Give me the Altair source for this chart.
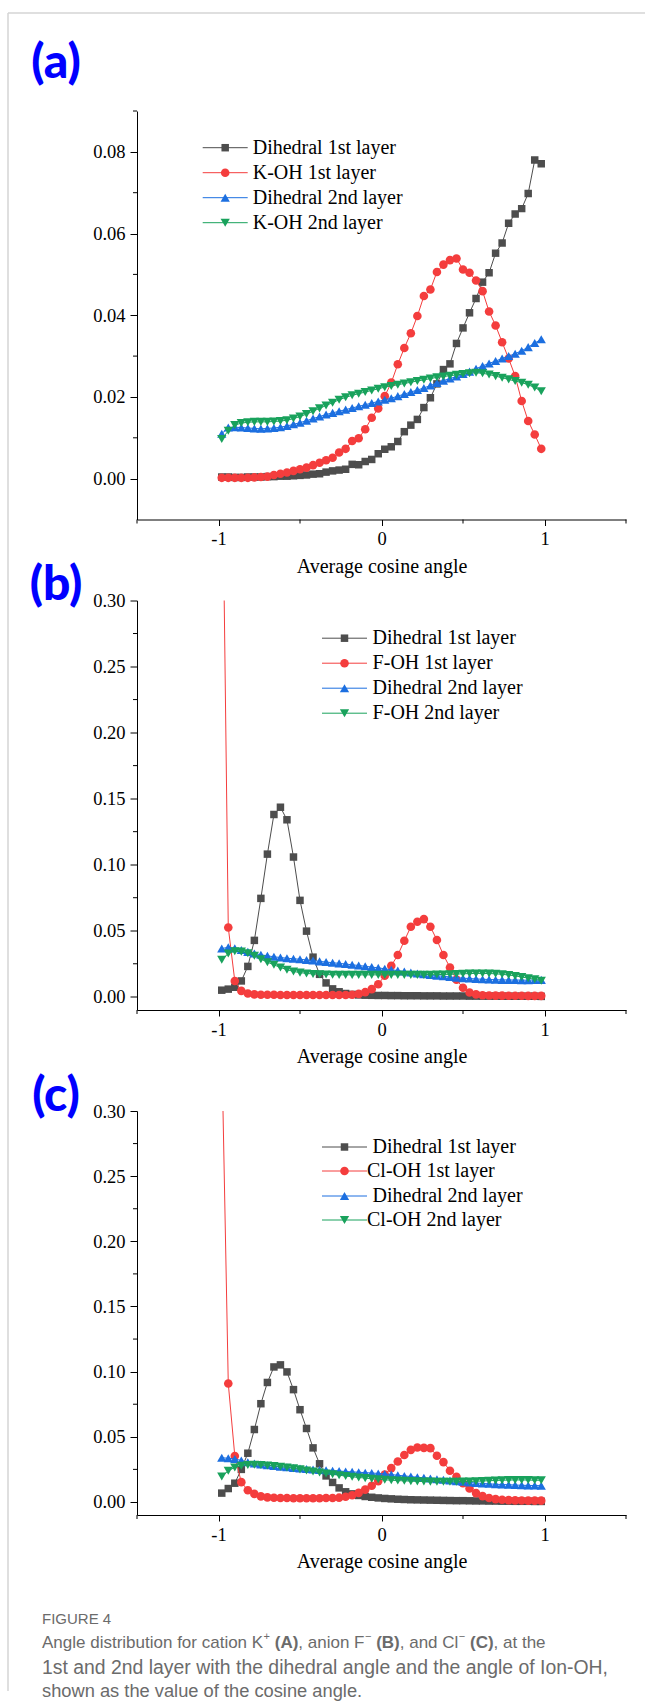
import altair as alt
import pandas as pd

# Bin centres of the cosine histogram
COS = [-0.98, -0.94, -0.90, -0.86, -0.82, -0.78, -0.74, -0.70, -0.66, -0.62,
       -0.58, -0.54, -0.50, -0.46, -0.42, -0.38, -0.34, -0.30, -0.26, -0.22,
       -0.18, -0.14, -0.10, -0.06, -0.02, 0.02, 0.06, 0.10, 0.14, 0.18,
       0.22, 0.26, 0.30, 0.34, 0.38, 0.42, 0.46, 0.50, 0.54, 0.58,
       0.62, 0.66, 0.70, 0.74, 0.78, 0.82, 0.86, 0.90, 0.94, 0.98]

# (a) cation K+
A_DIH1 = [0.0004, 0.0004, 0.0003, 0.0003, 0.0004, 0.0004, 0.0004, 0.0005, 0.0005, 0.0006,
          0.0006, 0.0007, 0.0008, 0.0009, 0.0011, 0.0012, 0.0016, 0.0019, 0.0021, 0.0023,
          0.0035, 0.0034, 0.0042, 0.0047, 0.0061, 0.0072, 0.0078, 0.0091, 0.0115, 0.0131,
          0.0145, 0.0174, 0.0198, 0.0232, 0.0267, 0.0281, 0.0331, 0.0369, 0.0406, 0.0441,
          0.0481, 0.0504, 0.0552, 0.0577, 0.0625, 0.0648, 0.0661, 0.0698, 0.0780, 0.0771]
A_ION1 = [0.0002, 0.0002, 0.0002, 0.0002, 0.0002, 0.0003, 0.0004, 0.0005, 0.0009, 0.0012,
          0.0015, 0.0019, 0.0023, 0.0027, 0.0033, 0.0039, 0.0045, 0.0051, 0.0064, 0.0073,
          0.0092, 0.0099, 0.0121, 0.0149, 0.0172, 0.0202, 0.0235, 0.0280, 0.0320, 0.0356,
          0.0398, 0.0447, 0.0463, 0.0506, 0.0524, 0.0535, 0.0539, 0.0512, 0.0504, 0.0485,
          0.0459, 0.0409, 0.0375, 0.0334, 0.0294, 0.0251, 0.0190, 0.0141, 0.0108, 0.0073]
A_DIH2 = [0.0110, 0.0125, 0.0126, 0.0125, 0.0124, 0.0123, 0.0122, 0.0123, 0.0124, 0.0126,
          0.0129, 0.0133, 0.0137, 0.0142, 0.0147, 0.0152, 0.0157, 0.0161, 0.0165, 0.0169,
          0.0173, 0.0177, 0.0181, 0.0185, 0.0189, 0.0193, 0.0197, 0.0202, 0.0207, 0.0212,
          0.0217, 0.0222, 0.0228, 0.0234, 0.0240, 0.0245, 0.0250, 0.0256, 0.0262, 0.0269,
          0.0276, 0.0282, 0.0288, 0.0294, 0.0300, 0.0306, 0.0313, 0.0322, 0.0332, 0.0341]
A_ION2 = [0.0097, 0.0117, 0.0131, 0.0136, 0.0138, 0.0139, 0.0139, 0.0139, 0.0140, 0.0141,
          0.0143, 0.0147, 0.0152, 0.0158, 0.0165, 0.0172, 0.0179, 0.0186, 0.0193, 0.0199,
          0.0204, 0.0208, 0.0212, 0.0216, 0.0220, 0.0224, 0.0227, 0.0230, 0.0233, 0.0236,
          0.0239, 0.0242, 0.0245, 0.0248, 0.0250, 0.0252, 0.0254, 0.0256, 0.0258, 0.0259,
          0.0258, 0.0255, 0.0251, 0.0247, 0.0243, 0.0239, 0.0235, 0.0230, 0.0223, 0.0214]

# (b) anion F-
B_DIH1 = [0.0050, 0.0058, 0.0072, 0.0120, 0.0230, 0.0427, 0.0745, 0.1080, 0.1380, 0.1435,
          0.1340, 0.1058, 0.0730, 0.0497, 0.0300, 0.0170, 0.0105, 0.0060, 0.0038, 0.0025,
          0.0018, 0.0014, 0.0012, 0.0011, 0.0010, 0.0010, 0.0009, 0.0009, 0.0008, 0.0008,
          0.0008, 0.0007, 0.0007, 0.0007, 0.0006, 0.0006, 0.0006, 0.0006, 0.0005, 0.0005,
          0.0005, 0.0005, 0.0005, 0.0004, 0.0004, 0.0004, 0.0004, 0.0004, 0.0004, 0.0003]
B_ION1 = [0.4500, 0.0525, 0.0120, 0.0045, 0.0025, 0.0018, 0.0016, 0.0015, 0.0015, 0.0014,
          0.0014, 0.0014, 0.0014, 0.0013, 0.0013, 0.0013, 0.0013, 0.0013, 0.0013, 0.0014,
          0.0015, 0.0022, 0.0035, 0.0058, 0.0095, 0.0160, 0.0235, 0.0316, 0.0424, 0.0530,
          0.0568, 0.0588, 0.0530, 0.0430, 0.0316, 0.0222, 0.0130, 0.0068, 0.0033, 0.0018,
          0.0012, 0.0010, 0.0009, 0.0009, 0.0008, 0.0008, 0.0008, 0.0007, 0.0007, 0.0007]
B_DIH2 = [0.0365, 0.0375, 0.0368, 0.0355, 0.0340, 0.0328, 0.0318, 0.0310, 0.0303, 0.0297,
          0.0292, 0.0288, 0.0284, 0.0279, 0.0274, 0.0268, 0.0263, 0.0258, 0.0253, 0.0248,
          0.0242, 0.0237, 0.0231, 0.0225, 0.0219, 0.0212, 0.0205, 0.0198, 0.0191, 0.0184,
          0.0177, 0.0171, 0.0165, 0.0160, 0.0155, 0.0150, 0.0145, 0.0141, 0.0138, 0.0135,
          0.0133, 0.0131, 0.0129, 0.0128, 0.0127, 0.0127, 0.0126, 0.0126, 0.0127, 0.0128]
B_ION2 = [0.0280, 0.0328, 0.0345, 0.0342, 0.0330, 0.0310, 0.0285, 0.0262, 0.0242, 0.0222,
          0.0205, 0.0192, 0.0183, 0.0177, 0.0173, 0.0170, 0.0168, 0.0167, 0.0166, 0.0166,
          0.0166, 0.0166, 0.0166, 0.0166, 0.0166, 0.0166, 0.0166, 0.0166, 0.0166, 0.0166,
          0.0166, 0.0166, 0.0167, 0.0168, 0.0169, 0.0170, 0.0172, 0.0174, 0.0176, 0.0177,
          0.0177, 0.0176, 0.0174, 0.0170, 0.0165, 0.0158, 0.0150, 0.0141, 0.0132, 0.0122]

# (c) anion Cl-
C_DIH1 = [0.0068, 0.0103, 0.0144, 0.0250, 0.0374, 0.0556, 0.0754, 0.0917, 0.1036, 0.1052,
          0.0998, 0.0862, 0.0708, 0.0564, 0.0415, 0.0293, 0.0200, 0.0150, 0.0108, 0.0078,
          0.0062, 0.0050, 0.0042, 0.0036, 0.0031, 0.0027, 0.0024, 0.0021, 0.0019, 0.0017,
          0.0016, 0.0015, 0.0014, 0.0013, 0.0012, 0.0011, 0.0010, 0.0010, 0.0009, 0.0008,
          0.0008, 0.0007, 0.0007, 0.0006, 0.0006, 0.0005, 0.0005, 0.0005, 0.0004, 0.0004]
C_ION1 = [0.3500, 0.0909, 0.0353, 0.0152, 0.0090, 0.0062, 0.0043, 0.0035, 0.0032, 0.0030,
          0.0030, 0.0029, 0.0029, 0.0029, 0.0029, 0.0029, 0.0030, 0.0030, 0.0033, 0.0040,
          0.0052, 0.0070, 0.0095, 0.0125, 0.0160, 0.0210, 0.0260, 0.0310, 0.0360, 0.0400,
          0.0418, 0.0415, 0.0413, 0.0355, 0.0306, 0.0240, 0.0193, 0.0144, 0.0103, 0.0068,
          0.0045, 0.0030, 0.0022, 0.0017, 0.0014, 0.0012, 0.0011, 0.0010, 0.0010, 0.0010]
C_DIH2 = [0.0340, 0.0335, 0.0330, 0.0318, 0.0305, 0.0295, 0.0288, 0.0282, 0.0276, 0.0271,
          0.0266, 0.0261, 0.0257, 0.0253, 0.0249, 0.0246, 0.0243, 0.0240, 0.0237, 0.0234,
          0.0231, 0.0228, 0.0225, 0.0222, 0.0219, 0.0215, 0.0210, 0.0205, 0.0200, 0.0195,
          0.0190, 0.0185, 0.0180, 0.0175, 0.0170, 0.0165, 0.0160, 0.0155, 0.0150, 0.0146,
          0.0142, 0.0139, 0.0136, 0.0134, 0.0132, 0.0130, 0.0128, 0.0127, 0.0126, 0.0125]
C_ION2 = [0.0195, 0.0240, 0.0265, 0.0278, 0.0284, 0.0285, 0.0283, 0.0280, 0.0276, 0.0271,
          0.0265, 0.0258, 0.0250, 0.0242, 0.0234, 0.0226, 0.0219, 0.0212, 0.0205, 0.0199,
          0.0193, 0.0188, 0.0183, 0.0178, 0.0174, 0.0170, 0.0167, 0.0164, 0.0162, 0.0160,
          0.0158, 0.0157, 0.0156, 0.0155, 0.0155, 0.0155, 0.0155, 0.0156, 0.0157, 0.0159,
          0.0161, 0.0163, 0.0165, 0.0167, 0.0168, 0.0169, 0.0169, 0.0168, 0.0167, 0.0166]

NAMES_A = ["Dihedral 1st layer", "K-OH 1st layer", "Dihedral 2nd layer", "K-OH 2nd layer"]
NAMES_B = ["Dihedral 1st layer", "F-OH 1st layer", "Dihedral 2nd layer", "F-OH 2nd layer"]
NAMES_C = ["Dihedral 1st layer", "Cl-OH 1st layer", "Dihedral 2nd layer", "Cl-OH 2nd layer"]

X_MAJOR = [-1, 0, 1]
X_MINOR = [-1.5, -0.5, 0.5, 1.5]
Y_MAJOR_A = [0.00, 0.02, 0.04, 0.06, 0.08]
Y_MINOR_A = [0.01, 0.03, 0.05, 0.07, 0.09]
Y_MAJOR_BC = [0.00, 0.05, 0.10, 0.15, 0.20, 0.25, 0.30]
Y_MINOR_BC = [0.025, 0.075, 0.125, 0.175, 0.225, 0.275]

COLORS = ["#4d4d4d", "#f43d3d", "#1c6fe0", "#19a25c"]
SHAPES = ["square", "circle", "triangle-up", "triangle-down"]
SIZES = [56, 74, 86, 86]

SERIF = "Liberation Serif"
CAP_FONT = "Liberation Sans"
TAG_FONT = "Lato"
WIDTH = 489
ONE = pd.DataFrame({"k": [0]})


def one_text(text, x, y, **kw):
    return alt.Chart(ONE).mark_text(text=text, **kw).encode(x=alt.value(x), y=alt.value(y))


def panel(series, names, y_max, y_major, y_minor, plot_h, extra, tag, tag_y,
          leg_x, leg_rows, text_x):
    """One stacked panel; the cell is `extra` px taller than the plot below the x axis."""
    xs = alt.Scale(domain=[-1.5, 1.5], nice=False, zero=False)
    ys = alt.Scale(domain=[-0.01, y_max], nice=False, zero=False, range=[plot_h, 0])
    x_axis = alt.Axis(values=X_MAJOR, labelExpr="'' + datum.value", title="Average cosine angle",
                      grid=False, domainColor="black", tickColor="black", labelColor="black",
                      titleColor="black", labelFont=SERIF, labelFontSize=18.5, titleFont=SERIF,
                      titleFontSize=20, titleFontWeight="normal", tickSize=6, labelPadding=4,
                      titlePadding=8, offset=-extra, labelFlush=False)
    y_axis = alt.Axis(values=y_major, format=".2f", title="", grid=False, domainColor="black",
                      tickColor="black", labelColor="black", labelFont=SERIF, labelFontSize=18.5,
                      tickSize=7, labelPadding=5, labelFlush=False)
    xe = alt.X("cos:Q", scale=xs, axis=x_axis)
    ye = alt.Y("p:Q", scale=ys, axis=y_axis)
    layers = []
    for vals, color, shape, size in zip(series, COLORS, SHAPES, SIZES):
        df = pd.DataFrame({"cos": COS, "p": vals})
        layers.append(alt.Chart(df).mark_line(color=color, strokeWidth=1, clip=True)
                      .encode(x=xe, y=ye))
        layers.append(alt.Chart(df).mark_point(shape=shape, filled=True, size=size, color=color,
                                               opacity=1, clip=True)
                      .encode(x=xe, y=ye))
    # minor ticks on both axes
    layers.append(alt.Chart(pd.DataFrame({"p": y_minor})).mark_rule(color="black", strokeWidth=1)
                  .encode(y=ye, x=alt.value(-4), x2=alt.value(0)))
    layers.append(alt.Chart(pd.DataFrame({"cos": X_MINOR})).mark_rule(color="black", strokeWidth=1)
                  .encode(x=xe, y=alt.value(plot_h), y2=alt.value(plot_h + 4)))
    # legend: line segment, symbol and name per series
    for name, color, shape, size, ly, tx in zip(names, COLORS, SHAPES, SIZES, leg_rows, text_x):
        layers.append(alt.Chart(ONE).mark_rule(color=color, strokeWidth=1)
                      .encode(x=alt.value(leg_x), x2=alt.value(leg_x + 45), y=alt.value(ly)))
        layers.append(alt.Chart(ONE).mark_point(shape=shape, filled=True, size=size, color=color,
                                                opacity=1)
                      .encode(x=alt.value(leg_x + 22.5), y=alt.value(ly)))
        layers.append(one_text(name, tx, ly, align="left", baseline="middle", font=SERIF,
                               fontSize=20, color="black"))
    # panel tag
    layers.append(one_text(tag, -81, tag_y, align="center", baseline="middle", font=TAG_FONT,
                           fontWeight=900, fontSize=48, color="#0000ff"))
    return layers, plot_h + extra


la, ha = panel([A_DIH1, A_ION1, A_DIH2, A_ION2], NAMES_A, 0.09, Y_MAJOR_A, Y_MINOR_A,
               408.5, 0, "(a)", -47, 65.7, [36.7, 61.7, 86.7, 111.7], [115.7] * 4)
lb, hb = panel([B_DIH1, B_ION1, B_DIH2, B_ION2], NAMES_B, 0.30, Y_MAJOR_BC, Y_MINOR_BC,
               409.5, 20, "(b)", -15, 185, [37.7, 62.7, 87.7, 112.7], [235.6] * 4)
lc, hc = panel([C_DIH1, C_ION1, C_DIH2, C_ION2], NAMES_C, 0.30, Y_MAJOR_BC, Y_MINOR_BC,
               404, 0, "(c)", -14, 185, [36, 60, 85, 109], [235.6, 230, 235.6, 230])

# outer page frame (top and left edges)
FRAME = "#d4d4d4"
la.append(alt.Chart(ONE).mark_rule(color=FRAME, strokeWidth=1.5)
          .encode(x=alt.value(-129), x2=alt.value(508), y=alt.value(-98)))
la.append(alt.Chart(ONE).mark_rule(color=FRAME, strokeWidth=1.5)
          .encode(x=alt.value(-129), y=alt.value(-98), y2=alt.value(1580)))

# figure caption below the last panel; line 1 is set piece by piece (bold panel letters,
# raised ion charges) using Liberation Sans advance widths (per 1000 em)
REG = {" ": 278, "(": 333, ")": 333, ",": 278, "+": 584, "\u2212": 584, "A": 667, "C": 722,
       "F": 611, "K": 667, "a": 556, "b": 556, "c": 500, "d": 556, "e": 556, "f": 278,
       "g": 556, "h": 556, "i": 222, "l": 222, "n": 556, "o": 556, "r": 333, "s": 500,
       "t": 278, "u": 556}
BOLD = {"(": 333, ")": 333, "A": 722, "B": 722, "C": 722}


def advance(text, size, bold=False):
    table = BOLD if bold else REG
    return sum(table.get(ch, 556) for ch in text) * size / 1000.0


CAP = "#6b6b6b"
CAP_X = -95
L1 = 17.0
SUP = 11.0
LINE1 = [("Angle distribution for cation K", "n"), ("+", "sup"), ("(A)", "b"),
         (", anion F", "n"), ("\u2212", "sup"), ("(B)", "b"), (", and Cl", "n"),
         ("\u2212", "sup"), ("(C)", "b"), (", at the", "n")]

lc.append(one_text("FIGURE 4", CAP_X, 508, align="left", baseline="middle", font=CAP_FONT,
                   fontSize=15, color=CAP))
pos = CAP_X
for seg, kind in LINE1:
    if kind == "b":
        pos += advance(" ", L1)
        lc.append(one_text(seg, pos, 532, align="left", baseline="middle", font=CAP_FONT,
                           fontSize=L1, fontWeight="bold", color=CAP))
        pos += advance(seg, L1, bold=True)
    elif kind == "sup":
        lc.append(one_text(seg, pos + 0.5, 526, align="left", baseline="middle", font=CAP_FONT,
                           fontSize=SUP, color=CAP))
        pos += advance(seg, SUP) + 0.5
    else:
        lc.append(one_text(seg, pos, 532, align="left", baseline="middle", font=CAP_FONT,
                           fontSize=L1, color=CAP))
        pos += advance(seg, L1)
lc.append(one_text("1st and 2nd layer with the dihedral angle and the angle of Ion-OH,",
                   CAP_X, 557, align="left", baseline="middle", font=CAP_FONT, fontSize=19.4,
                   color=CAP))
lc.append(one_text("shown as the value of the cosine angle.", CAP_X, 581, align="left",
                   baseline="middle", font=CAP_FONT, fontSize=18.3, color=CAP))

pa = alt.layer(*la).properties(width=WIDTH, height=ha)
pb = alt.layer(*lb).properties(width=WIDTH, height=hb)
pc = alt.layer(*lc).properties(width=WIDTH, height=hc)

chart = (alt.vconcat(pa, pb, pc, spacing=80.5, bounds="flush")
         .properties(padding={"left": 7, "top": 12, "right": 0, "bottom": 0})
         .configure_view(strokeWidth=0))

chart.save("out.html", embed_options={"renderer": "svg", "actions": False})
